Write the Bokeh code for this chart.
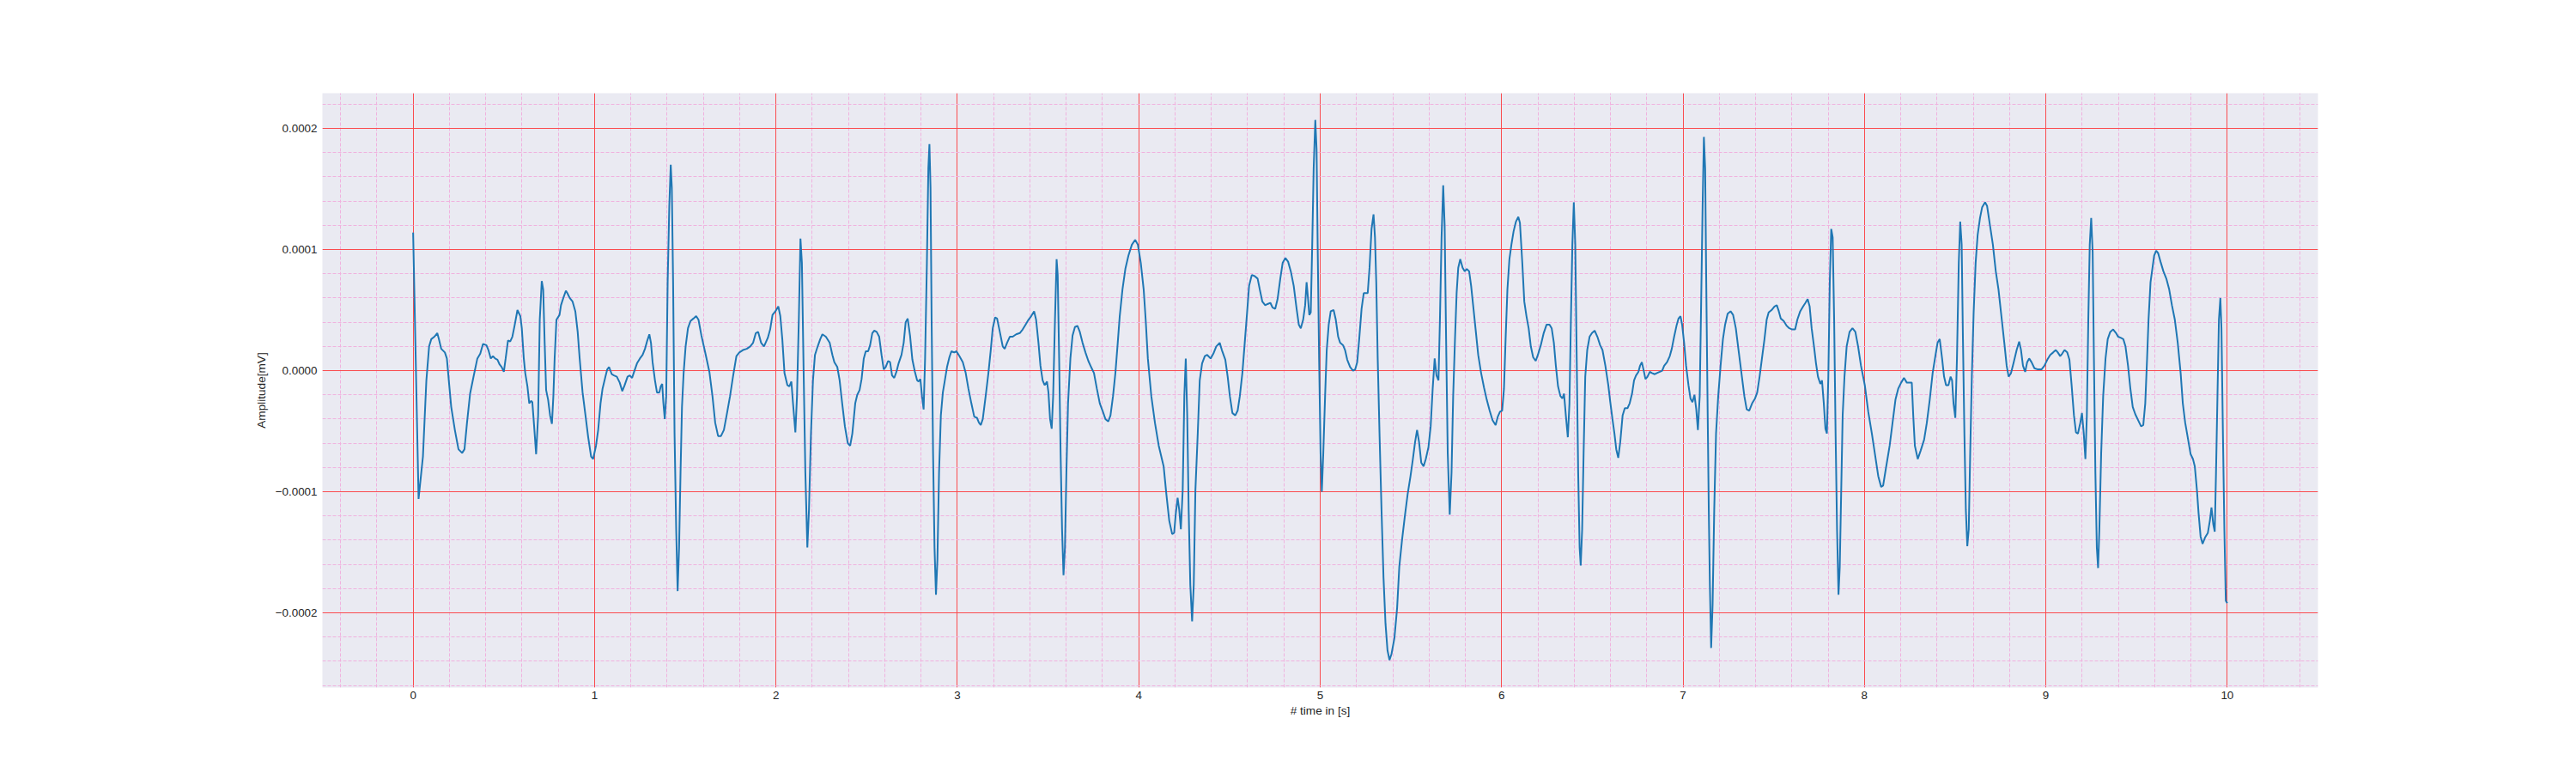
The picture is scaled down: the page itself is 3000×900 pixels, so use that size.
from bokeh.plotting import figure
from bokeh.models import Range1d, SingleIntervalTicker, CustomJSTickFormatter
from bokeh.embed import file_html
from bokeh.resources import INLINE

# signal, amplitude in units of 1e-4 mV
time_s = [
    0.0, 0.03, 0.054, 0.073, 0.088, 0.10, 0.117, 0.133, 0.142, 0.155, 0.175, 0.186, 0.199, 0.21, 0.23,
    0.25, 0.27, 0.283, 0.297, 0.314, 0.333, 0.354, 0.37, 0.385, 0.404, 0.415, 0.428, 0.44, 0.452, 0.465,
    0.477, 0.488, 0.50, 0.51, 0.523, 0.535, 0.547, 0.559, 0.575, 0.591, 0.599, 0.61, 0.618, 0.63, 0.64,
    0.65, 0.657, 0.667, 0.678, 0.689, 0.698, 0.709, 0.717, 0.725, 0.733, 0.744, 0.755, 0.765, 0.773, 0.78,
    0.79, 0.807, 0.815, 0.828, 0.842, 0.85, 0.863, 0.879, 0.894, 0.907, 0.918, 0.934, 0.95, 0.965, 0.981,
    0.992, 1.008, 1.02, 1.033, 1.044, 1.06, 1.07, 1.08, 1.095, 1.107, 1.123, 1.139, 1.153, 1.166, 1.182,
    1.194, 1.207, 1.218, 1.234, 1.25, 1.265, 1.278, 1.289, 1.302, 1.311, 1.32, 1.333, 1.344, 1.357, 1.365,
    1.373, 1.379, 1.387, 1.395, 1.403, 1.412, 1.42, 1.426, 1.433, 1.441, 1.45, 1.458, 1.466, 1.474, 1.482,
    1.491, 1.502, 1.515, 1.529, 1.545, 1.56, 1.573, 1.589, 1.613, 1.633, 1.65, 1.665, 1.681, 1.697, 1.713,
    1.728, 1.747, 1.763, 1.782, 1.798, 1.818, 1.839, 1.858, 1.874, 1.889, 1.902, 1.918, 1.934, 1.955, 1.968,
    1.981, 1.997, 2.013, 2.024, 2.035, 2.047, 2.063, 2.074, 2.085, 2.094, 2.107, 2.116, 2.126, 2.135, 2.143,
    2.153, 2.162, 2.173, 2.182, 2.193, 2.204, 2.215, 2.23, 2.244, 2.256, 2.275, 2.296, 2.311, 2.322, 2.338,
    2.351, 2.365, 2.38, 2.396, 2.409, 2.421, 2.437, 2.448, 2.461, 2.472, 2.484, 2.495, 2.508, 2.519, 2.531,
    2.542, 2.555, 2.569, 2.582, 2.594, 2.605, 2.618, 2.629, 2.64, 2.652, 2.664, 2.676, 2.692, 2.704, 2.715,
    2.726, 2.739, 2.752, 2.766, 2.778, 2.786, 2.796, 2.805, 2.814, 2.822, 2.832, 2.84, 2.846, 2.852, 2.858,
    2.866, 2.874, 2.882, 2.89, 2.899, 2.909, 2.92, 2.931, 2.943, 2.956, 2.967, 2.983, 2.995, 3.011, 3.03,
    3.046, 3.061, 3.077, 3.093, 3.108, 3.119, 3.129, 3.14, 3.156, 3.171, 3.184, 3.195, 3.208, 3.219, 3.234,
    3.25, 3.261, 3.274, 3.289, 3.305, 3.324, 3.344, 3.36, 3.376, 3.392, 3.407, 3.423, 3.434, 3.447, 3.458,
    3.47, 3.481, 3.494, 3.502, 3.511, 3.52, 3.528, 3.538, 3.547, 3.553, 3.561, 3.569, 3.577, 3.585, 3.593,
    3.601, 3.61, 3.623, 3.635, 3.648, 3.662, 3.675, 3.69, 3.706, 3.722, 3.737, 3.753, 3.769, 3.785, 3.8,
    3.816, 3.832, 3.844, 3.858, 3.871, 3.884, 3.895, 3.91, 3.926, 3.943, 3.962, 3.98, 3.995, 4.011, 4.027,
    4.038, 4.05, 4.069, 4.089, 4.11, 4.137, 4.152, 4.168, 4.184, 4.195, 4.204, 4.214, 4.223, 4.232, 4.242,
    4.251, 4.259, 4.267, 4.275, 4.284, 4.294, 4.303, 4.312, 4.325, 4.336, 4.349, 4.364, 4.377, 4.396, 4.411,
    4.427, 4.446, 4.458, 4.477, 4.49, 4.502, 4.516, 4.532, 4.545, 4.557, 4.571, 4.584, 4.597, 4.608, 4.623,
    4.639, 4.655, 4.667, 4.681, 4.697, 4.71, 4.725, 4.738, 4.752, 4.765, 4.78, 4.793, 4.808, 4.823, 4.838,
    4.854, 4.87, 4.882, 4.893, 4.906, 4.917, 4.925, 4.932, 4.94, 4.948, 4.956, 4.964, 4.973, 4.98, 4.986,
    4.994, 5.002, 5.009, 5.017, 5.027, 5.036, 5.047, 5.058, 5.074, 5.086, 5.099, 5.11, 5.126, 5.137, 5.149,
    5.165, 5.181, 5.193, 5.204, 5.215, 5.228, 5.24, 5.251, 5.262, 5.272, 5.283, 5.294, 5.302, 5.309, 5.317,
    5.327, 5.338, 5.349, 5.36, 5.371, 5.382, 5.393, 5.409, 5.424, 5.436, 5.451, 5.466, 5.482, 5.498, 5.51,
    5.523, 5.534, 5.545, 5.557, 5.57, 5.582, 5.597, 5.609, 5.62, 5.631, 5.641, 5.652, 5.66, 5.669, 5.678,
    5.686, 5.694, 5.703, 5.714, 5.724, 5.733, 5.743, 5.752, 5.761, 5.772, 5.785, 5.797, 5.808, 5.821, 5.832,
    5.843, 5.856, 5.871, 5.887, 5.903, 5.918, 5.934, 5.95, 5.967, 5.979, 5.991, 6.003, 6.013, 6.022, 6.032,
    6.043, 6.054, 6.066, 6.079, 6.092, 6.101, 6.114, 6.125, 6.137, 6.149, 6.161, 6.174, 6.188, 6.2, 6.216,
    6.232, 6.248, 6.264, 6.276, 6.288, 6.299, 6.311, 6.324, 6.335, 6.344, 6.354, 6.365, 6.374, 6.382, 6.39,
    6.398, 6.406, 6.414, 6.422, 6.43, 6.436, 6.444, 6.452, 6.461, 6.472, 6.485, 6.498, 6.513, 6.528, 6.543,
    6.556, 6.572, 6.588, 6.599, 6.611, 6.622, 6.632, 6.643, 6.654, 6.667, 6.679, 6.694, 6.706, 6.719, 6.73,
    6.741, 6.754, 6.763, 6.773, 6.782, 6.793, 6.804, 6.817, 6.829, 6.844, 6.856, 6.872, 6.885, 6.896, 6.912,
    6.927, 6.938, 6.951, 6.964, 6.975, 6.986, 6.995, 7.006, 7.017, 7.03, 7.041, 7.052, 7.063, 7.073, 7.082,
    7.092, 7.1, 7.108, 7.115, 7.122, 7.128, 7.136, 7.142, 7.148, 7.155, 7.163, 7.172, 7.182, 7.194, 7.207,
    7.22, 7.232, 7.246, 7.262, 7.276, 7.291, 7.306, 7.322, 7.338, 7.351, 7.365, 7.381, 7.397, 7.409, 7.422,
    7.435, 7.449, 7.461, 7.472, 7.488, 7.504, 7.517, 7.528, 7.539, 7.555, 7.571, 7.586, 7.602, 7.618, 7.63,
    7.646, 7.662, 7.675, 7.687, 7.698, 7.709, 7.722, 7.733, 7.744, 7.757, 7.766, 7.776, 7.785, 7.793, 7.801,
    7.809, 7.817, 7.825, 7.833, 7.841, 7.849, 7.857, 7.864, 7.872, 7.88, 7.89, 7.902, 7.918, 7.934, 7.95,
    7.965, 7.981, 8.002, 8.021, 8.041, 8.06, 8.076, 8.092, 8.103, 8.118, 8.139, 8.155, 8.171, 8.186, 8.202,
    8.218, 8.234, 8.25, 8.261, 8.269, 8.278, 8.294, 8.31, 8.329, 8.344, 8.36, 8.376, 8.392, 8.403, 8.415,
    8.428, 8.439, 8.45, 8.463, 8.475, 8.483, 8.491, 8.501, 8.51, 8.52, 8.528, 8.536, 8.543, 8.551, 8.559,
    8.567, 8.575, 8.583, 8.592, 8.602, 8.613, 8.624, 8.637, 8.649, 8.665, 8.676, 8.692, 8.708, 8.724, 8.739,
    8.755, 8.771, 8.784, 8.795, 8.808, 8.823, 8.839, 8.853, 8.863, 8.874, 8.886, 8.897, 8.908, 8.921, 8.937,
    8.956, 8.976, 8.992, 9.008, 9.024, 9.04, 9.055, 9.066, 9.079, 9.09, 9.103, 9.118, 9.13, 9.142, 9.155,
    9.166, 9.177, 9.19, 9.199, 9.209, 9.218, 9.226, 9.234, 9.242, 9.25, 9.258, 9.265, 9.273, 9.281, 9.288,
    9.295, 9.305, 9.316, 9.329, 9.341, 9.355, 9.371, 9.387, 9.398, 9.414, 9.427, 9.439, 9.453, 9.466, 9.479,
    9.493, 9.509, 9.525, 9.537, 9.548, 9.558, 9.566, 9.577, 9.588, 9.597, 9.608, 9.619, 9.632, 9.648, 9.664,
    9.68, 9.695, 9.711, 9.727, 9.743, 9.755, 9.768, 9.782, 9.798, 9.811, 9.821, 9.833, 9.842, 9.853, 9.864,
    9.877, 9.893, 9.904, 9.913, 9.923, 9.931, 9.938, 9.946, 9.954, 9.962, 9.968, 9.976, 9.984, 9.992, 10.0,
]

amplitude_e4 = [
    1.14, -1.06, -0.71, -0.08, 0.20, 0.26, 0.28, 0.31, 0.26, 0.18, 0.15, 0.10, -0.12, -0.30, -0.49,
    -0.65, -0.68, -0.65, -0.43, -0.19, -0.05, 0.10, 0.14, 0.22, 0.21, 0.17, 0.10, 0.12, 0.10, 0.09,
    0.05, 0.03, -0.01, 0.10, 0.25, 0.24, 0.28, 0.37, 0.50, 0.45, 0.35, 0.10, -0.02, -0.13, -0.27,
    -0.25, -0.26, -0.46, -0.69, -0.37, 0.42, 0.74, 0.67, 0.23, -0.16, -0.24, -0.37, -0.44, -0.21, 0.10,
    0.42, 0.46, 0.54, 0.60, 0.66, 0.64, 0.60, 0.57, 0.49, 0.32, 0.10, -0.18, -0.37, -0.55, -0.71,
    -0.73, -0.62, -0.49, -0.27, -0.15, -0.05, 0.01, 0.03, -0.03, -0.04, -0.05, -0.10, -0.17, -0.12, -0.05,
    -0.04, -0.06, -0.01, 0.06, 0.10, 0.13, 0.18, 0.24, 0.30, 0.23, 0.07, -0.08, -0.18, -0.18, -0.13,
    -0.11, -0.26, -0.40, -0.21, 0.73, 1.36, 1.70, 1.51, 0.73, -0.52, -1.31, -1.82, -1.46, -0.84, -0.30,
    -0.02, 0.20, 0.35, 0.41, 0.43, 0.45, 0.42, 0.29, 0.13, -0.01, -0.21, -0.43, -0.54, -0.54, -0.49,
    -0.37, -0.21, -0.05, 0.12, 0.15, 0.17, 0.18, 0.20, 0.23, 0.31, 0.32, 0.23, 0.20, 0.27, 0.34,
    0.46, 0.49, 0.53, 0.45, 0.26, -0.02, -0.12, -0.13, -0.09, -0.27, -0.51, -0.21, 0.42, 1.09, 0.89,
    -0.05, -0.84, -1.46, -1.15, -0.52, -0.08, 0.13, 0.20, 0.26, 0.30, 0.28, 0.23, 0.13, 0.07, 0.03,
    -0.08, -0.27, -0.46, -0.60, -0.62, -0.52, -0.27, -0.20, -0.16, -0.07, 0.10, 0.16, 0.16, 0.21, 0.31,
    0.33, 0.32, 0.28, 0.13, 0.01, 0.03, 0.08, 0.07, -0.04, -0.06, -0.01, 0.06, 0.13, 0.23, 0.40,
    0.43, 0.29, 0.09, -0.01, -0.08, -0.09, -0.07, -0.21, -0.32, 0.10, 0.89, 1.67, 1.87, 1.51, 0.42,
    -0.68, -1.46, -1.85, -1.56, -0.84, -0.37, -0.18, -0.08, 0.03, 0.11, 0.16, 0.15, 0.16, 0.12, 0.07,
    -0.02, -0.15, -0.27, -0.38, -0.39, -0.43, -0.45, -0.40, -0.21, -0.02, 0.17, 0.35, 0.44, 0.43, 0.32,
    0.20, 0.18, 0.23, 0.28, 0.28, 0.30, 0.31, 0.34, 0.38, 0.42, 0.45, 0.49, 0.42, 0.23, 0.04,
    -0.08, -0.12, -0.09, -0.18, -0.40, -0.48, -0.21, 0.42, 0.92, 0.79, 0.10, -0.68, -1.31, -1.69, -1.46,
    -0.84, -0.27, 0.10, 0.29, 0.36, 0.37, 0.32, 0.23, 0.15, 0.08, 0.03, -0.02, -0.15, -0.27, -0.33,
    -0.40, -0.42, -0.37, -0.21, -0.02, 0.23, 0.45, 0.67, 0.84, 0.95, 1.04, 1.08, 1.04, 0.89, 0.67,
    0.42, 0.10, -0.21, -0.43, -0.62, -0.79, -1.02, -1.24, -1.35, -1.34, -1.18, -1.05, -1.15, -1.31, -0.99,
    -0.21, 0.10, -0.37, -1.15, -1.77, -2.07, -1.77, -0.99, -0.52, -0.08, 0.06, 0.12, 0.13, 0.10, 0.14,
    0.20, 0.23, 0.17, 0.09, -0.05, -0.21, -0.35, -0.37, -0.33, -0.21, -0.02, 0.23, 0.48, 0.70, 0.79,
    0.78, 0.76, 0.67, 0.57, 0.54, 0.55, 0.56, 0.52, 0.51, 0.59, 0.76, 0.89, 0.93, 0.90, 0.82,
    0.70, 0.51, 0.38, 0.35, 0.42, 0.54, 0.73, 0.61, 0.46, 0.48, 1.04, 1.67, 2.07, 1.83, 1.04,
    0.10, -0.68, -1.00, -0.68, -0.21, 0.17, 0.38, 0.49, 0.50, 0.42, 0.28, 0.23, 0.21, 0.17, 0.09,
    0.03, 0.00, 0.01, 0.07, 0.26, 0.51, 0.64, 0.64, 0.64, 0.85, 1.17, 1.29, 1.10, 0.73, 0.10,
    -0.52, -1.15, -1.71, -2.09, -2.31, -2.39, -2.34, -2.21, -1.96, -1.62, -1.40, -1.21, -1.02, -0.87, -0.74,
    -0.59, -0.49, -0.59, -0.76, -0.79, -0.73, -0.63, -0.46, -0.15, 0.10, -0.04, -0.08, 0.42, 1.10, 1.53,
    1.20, 0.26, -0.68, -1.19, -0.84, -0.21, 0.26, 0.64, 0.85, 0.92, 0.85, 0.82, 0.84, 0.82, 0.70,
    0.54, 0.35, 0.13, -0.02, -0.14, -0.24, -0.33, -0.41, -0.45, -0.38, -0.34, -0.33, -0.15, 0.26, 0.67,
    0.92, 1.04, 1.15, 1.23, 1.27, 1.22, 0.89, 0.57, 0.45, 0.35, 0.20, 0.11, 0.08, 0.13, 0.21,
    0.31, 0.38, 0.38, 0.35, 0.23, 0.04, -0.13, -0.21, -0.23, -0.19, -0.37, -0.55, -0.27, 0.42, 1.04,
    1.39, 1.04, 0.10, -0.84, -1.46, -1.61, -1.31, -0.68, -0.05, 0.17, 0.28, 0.31, 0.33, 0.28, 0.21,
    0.17, 0.04, -0.12, -0.26, -0.40, -0.52, -0.65, -0.72, -0.59, -0.37, -0.31, -0.31, -0.27, -0.19, -0.08,
    -0.04, -0.01, 0.04, 0.07, 0.01, -0.07, -0.05, -0.01, -0.02, -0.03, -0.02, -0.01, 0.00, 0.04, 0.07,
    0.12, 0.18, 0.28, 0.37, 0.43, 0.45, 0.38, 0.23, 0.04, -0.12, -0.23, -0.26, -0.20, -0.32, -0.49,
    -0.21, 0.57, 1.36, 1.93, 1.67, 0.73, -0.37, -1.15, -1.77, -2.29, -1.93, -1.15, -0.52, -0.21, 0.04,
    0.26, 0.38, 0.47, 0.49, 0.46, 0.35, 0.17, -0.02, -0.21, -0.32, -0.33, -0.27, -0.23, -0.18, -0.05,
    0.10, 0.26, 0.42, 0.48, 0.50, 0.53, 0.54, 0.49, 0.43, 0.41, 0.37, 0.35, 0.34, 0.34, 0.42,
    0.49, 0.53, 0.56, 0.59, 0.53, 0.35, 0.20, 0.06, -0.05, -0.11, -0.08, -0.27, -0.48, -0.52, -0.05,
    0.73, 1.17, 1.10, 0.42, -0.52, -1.31, -1.85, -1.62, -0.99, -0.37, -0.05, 0.20, 0.32, 0.35, 0.32,
    0.20, 0.04, -0.12, -0.34, -0.52, -0.71, -0.87, -0.96, -0.95, -0.81, -0.62, -0.43, -0.24, -0.15, -0.10,
    -0.06, -0.10, -0.10, -0.10, -0.37, -0.62, -0.73, -0.66, -0.57, -0.43, -0.24, -0.02, 0.13, 0.23, 0.26,
    0.10, -0.05, -0.12, -0.12, -0.05, -0.08, -0.27, -0.39, 0.10, 0.89, 1.23, 1.04, 0.26, -0.52, -1.15,
    -1.45, -1.31, -0.68, -0.05, 0.48, 0.89, 1.12, 1.26, 1.35, 1.39, 1.36, 1.20, 1.04, 0.82, 0.67,
    0.45, 0.23, 0.04, -0.05, -0.02, 0.07, 0.17, 0.24, 0.17, 0.04, -0.01, 0.07, 0.10, 0.07, 0.02,
    0.01, 0.01, 0.04, 0.09, 0.13, 0.15, 0.17, 0.15, 0.12, 0.14, 0.17, 0.15, 0.09, -0.12, -0.37,
    -0.51, -0.52, -0.43, -0.35, -0.52, -0.73, -0.37, 0.42, 1.04, 1.26, 0.98, 0.10, -0.84, -1.46, -1.63,
    -1.31, -0.68, -0.21, 0.10, 0.26, 0.32, 0.34, 0.31, 0.28, 0.27, 0.26, 0.20, 0.04, -0.15, -0.30,
    -0.36, -0.41, -0.46, -0.45, -0.27, 0.10, 0.42, 0.73, 0.85, 0.95, 0.99, 0.97, 0.90, 0.82, 0.76,
    0.67, 0.54, 0.42, 0.23, -0.02, -0.27, -0.43, -0.55, -0.69, -0.73, -0.79, -0.99, -1.18, -1.37, -1.43,
    -1.38, -1.34, -1.24, -1.13, -1.27, -1.33, -0.84, -0.21, 0.42, 0.60, 0.35, -0.52, -1.31, -1.90, -1.92,
]

amplitude = [v * 1e-4 for v in amplitude_e4]

TEXT = "#262626"
FONT = "Liberation Sans"

p = figure(
    width=2984, height=884,
    x_range=Range1d(-0.5, 10.5),
    y_range=Range1d(-0.0002617, 0.0002291),
    output_backend="svg", toolbar_location=None,
    min_border_left=375, min_border_right=285,
    min_border_top=108, min_border_bottom=84,
)
p.background_fill_color = "#EAEAF2"
p.border_fill_color = "white"
p.outline_line_color = None

p.xaxis.ticker = SingleIntervalTicker(interval=1, num_minor_ticks=5)
p.yaxis.ticker = SingleIntervalTicker(interval=0.0001, num_minor_ticks=5)
p.yaxis.formatter = CustomJSTickFormatter(code="""
    if (Math.abs(tick) < 1e-12) { return "0.0000"; }
    return (tick < 0 ? "\\u2212" : "") + Math.abs(tick).toFixed(4);
""")

for ax in (p.xaxis, p.yaxis):
    ax.axis_line_color = None
    ax.major_tick_line_color = None
    ax.minor_tick_line_color = None
    ax.major_tick_out = 0
    ax.minor_tick_out = 0
    ax.major_label_text_font = FONT
    ax.major_label_text_font_size = "13.4px"
    ax.major_label_text_color = TEXT
    ax.axis_label_text_font = FONT
    ax.axis_label_text_font_size = "13.6px"
    ax.axis_label_text_font_style = "normal"
    ax.axis_label_text_color = TEXT

p.xaxis.axis_label = "# time in [s]"
p.yaxis.axis_label = "Amplitude[mV]"
p.xaxis.major_label_standoff = 4
p.yaxis.major_label_standoff = 6
p.xaxis.axis_label_standoff = 3
p.yaxis.axis_label_standoff = 6

for g in (p.xgrid, p.ygrid):
    g.grid_line_color = "#FA4B4E"
    g.grid_line_width = 1
    g.minor_grid_line_color = "#F0B2DF"
    g.minor_grid_line_width = 1
    g.minor_grid_line_dash = "4 2"

p.line(time_s, amplitude, line_color="#1f77b4", line_width=2)

open("out.html", "w").write(file_html(p, INLINE))
